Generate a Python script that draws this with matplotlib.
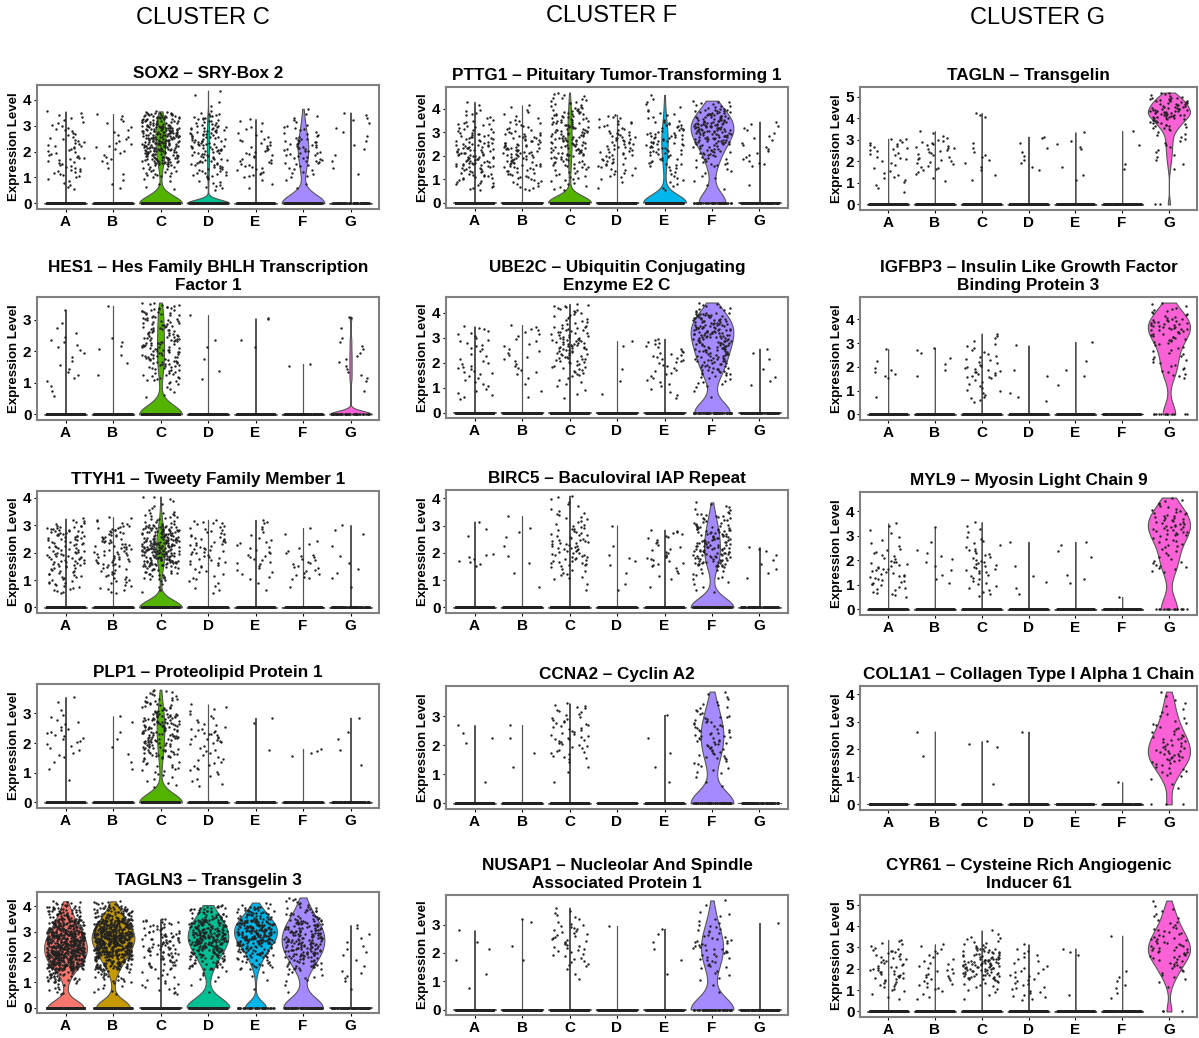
import numpy as np
import matplotlib
matplotlib.use("Agg")
import matplotlib.pyplot as plt

plt.rcParams["font.family"] = ["Liberation Sans", "DejaVu Sans"]

GROUPS = ["A", "B", "C", "D", "E", "F", "G"]
COLORS = ["#F8766D", "#C49A00", "#53B400", "#00C094", "#00B6EB", "#A58AFF", "#FB61D7"]
COLUMN_TITLES = ["CLUSTER C", "CLUSTER F", "CLUSTER G"]

# nonzero cells are counted in 0.5-wide bins starting at 0.5 (0.5-1.0, 1.0-1.5, ...)
BIN_START = 0.5
BIN_WIDTH = 0.5

# ---- cluster C column ----
sox2_title = "SOX2 – SRY-Box 2"
sox2_zero = [400, 350, 450, 400, 200, 130, 80]
sox2_top = [3.55, 3.45, 3.55, 4.35, 3.25, 3.65, 3.5]
sox2_bins = [[6, 14, 14, 14, 10, 8, 1], [3, 2, 6, 8, 5, 5], [5, 20, 55, 70, 75, 55, 3],
             [10, 20, 25, 30, 30, 20, 3, 2], [3, 12, 12, 12, 6, 3], [3, 10, 18, 22, 12, 6, 1],
             [0, 2, 2, 3, 3, 5]]

hes1_title = "HES1 – Hes Family BHLH Transcription\nFactor 1"
hes1_zero = [400, 350, 330, 300, 200, 150, 53]
hes1_top = [3.3, 3.45, 3.55, 3.15, 3.05, 1.6, 3.1]
hes1_bins = [[3, 5, 4, 6, 3, 1], [0, 1, 2, 4, 0, 1], [6, 22, 38, 38, 32, 30, 2],
             [0, 2, 1, 2, 0, 1], [0, 0, 0, 2, 0, 2], [0, 0, 2], [1, 5, 5, 4, 1, 2]]

ttyh1_title = "TTYH1 – Tweety Family Member 1"
ttyh1_zero = [450, 400, 500, 300, 200, 150, 100]
ttyh1_top = [3.25, 3.3, 4.05, 3.2, 3.2, 2.9, 3.0]
ttyh1_bins = [[14, 18, 28, 24, 30, 6], [10, 14, 22, 22, 20, 6], [5, 25, 65, 80, 60, 20, 6, 2],
              [6, 8, 14, 18, 14, 6], [2, 6, 10, 8, 5, 3], [1, 10, 10, 4, 2], [1, 3, 2, 1, 3]]

plp1_title = "PLP1 – Proteolipid Protein 1"
plp1_zero = [400, 350, 380, 300, 200, 150, 100]
plp1_top = [3.55, 2.9, 3.8, 3.3, 2.85, 1.8, 2.85]
plp1_bins = [[1, 2, 7, 10, 6, 2, 1], [0, 2, 2, 2, 2], [8, 14, 35, 45, 50, 25, 10],
             [6, 10, 8, 18, 8, 4], [0, 0, 1, 0, 2], [0, 0, 4], [0, 1, 1, 2, 1]]

tagln3_title = "TAGLN3 – Transgelin 3"
tagln3_zero = [200, 200, 400, 150, 50, 90, 100]
tagln3_top = [4.2, 4.2, 3.5, 4.05, 4.15, 4.35, 3.25]
tagln3_bins = [[10, 40, 140, 180, 160, 100, 50, 10], [8, 20, 80, 140, 190, 140, 60, 10],
               [10, 8, 20, 28, 30, 20, 1], [2, 6, 30, 60, 90, 70, 35, 3],
               [1, 3, 20, 45, 85, 85, 40, 3], [2, 8, 30, 50, 55, 45, 22, 8], [1, 5, 2, 4, 3, 2]]

# ---- cluster F column ----
pttg1_title = "PTTG1 – Pituitary Tumor-Transforming 1"
pttg1_zero = [450, 400, 420, 300, 230, 55, 90]
pttg1_top = [4.3, 4.15, 4.7, 3.75, 4.6, 4.35, 3.45]
pttg1_bins = [[12, 20, 30, 28, 22, 14, 8, 2], [10, 16, 24, 28, 20, 12, 6, 2],
              [8, 12, 20, 28, 30, 28, 24, 14, 4], [2, 10, 14, 16, 18, 12, 5],
              [6, 6, 14, 20, 22, 16, 8, 4, 1], [3, 5, 14, 22, 40, 50, 36, 10], [1, 0, 6, 6, 5, 5]]

ube2c_title = "UBE2C – Ubiquitin Conjugating\nEnzyme E2 C"
ube2c_zero = [400, 350, 450, 300, 200, 70, 100]
ube2c_top = [3.45, 3.5, 4.35, 2.85, 2.95, 4.4, 2.55]
ube2c_bins = [[6, 6, 10, 5, 8, 7], [2, 2, 6, 6, 5, 7], [3, 6, 14, 22, 28, 20, 12, 10],
              [1, 1, 1, 0, 2], [4, 6, 8, 12, 8], [2, 10, 25, 30, 38, 45, 40, 10], [0, 3, 1, 2, 1]]

birc5_title = "BIRC5 – Baculoviral IAP Repeat"
birc5_zero = [400, 350, 400, 300, 200, 180, 100]
birc5_top = [3.15, 3.35, 4.1, 3.0, 2.85, 3.85, 2.2]
birc5_bins = [[0, 0, 8, 0, 2, 1], [1, 1, 2, 1, 3, 1], [2, 10, 20, 22, 16, 10, 6, 2],
              [2, 1, 4, 1, 1], [1, 5, 12, 8, 8], [5, 10, 40, 40, 35, 20, 6], [0, 3, 3, 3]]

ccna2_title = "CCNA2 – Cyclin A2"
ccna2_zero = [400, 350, 350, 300, 200, 70, 100]
ccna2_top = [2.7, 2.7, 3.45, 0.0, 3.05, 3.85, 0.0]
ccna2_bins = [[1, 0, 0, 3, 1], [0, 1, 1, 1, 1], [1, 3, 12, 16, 14, 10], [],
              [1, 1, 1, 1, 1], [3, 8, 16, 20, 18, 10, 4], []]

nusap1_title = "NUSAP1 – Nucleolar And Spindle\nAssociated Protein 1"
nusap1_zero = [400, 350, 350, 300, 200, 60, 100]
nusap1_top = [2.8, 3.2, 3.6, 2.95, 2.85, 3.85, 3.05]
nusap1_bins = [[1, 1, 1, 2, 1], [0, 0, 1, 1, 0, 2], [0, 3, 10, 14, 14, 7, 1], [0, 0, 0, 0, 1],
               [0, 1, 1, 2, 2], [2, 6, 14, 18, 12, 6, 2], [0, 0, 0, 0, 1]]

# ---- cluster G column ----
tagln_title = "TAGLN – Transgelin"
tagln_zero = [400, 350, 350, 300, 200, 150, 2]
tagln_top = [3.05, 3.4, 4.25, 3.15, 3.35, 3.4, 5.2]
tagln_bins = [[3, 6, 4, 8, 10, 2], [0, 3, 9, 10, 12, 4], [0, 2, 3, 4, 2, 0, 0, 3],
              [0, 0, 3, 3, 2, 2], [0, 2, 1, 0, 4, 1], [0, 0, 2, 0, 1, 1],
              [0, 0, 2, 4, 5, 6, 18, 35, 25, 5]]

igfbp3_title = "IGFBP3 – Insulin Like Growth Factor\nBinding Protein 3"
igfbp3_zero = [400, 350, 350, 300, 200, 150, 12]
igfbp3_top = [2.75, 2.8, 3.4, 2.9, 3.05, 0.0, 4.7]
igfbp3_bins = [[1, 0, 6, 1, 1], [0, 0, 2, 2, 3], [7, 6, 14, 8, 6, 4], [3, 0, 2, 0, 1],
               [0, 1, 2, 1, 0, 1], [], [0, 0, 8, 8, 8, 16, 25, 12, 3]]

myl9_title = "MYL9 – Myosin Light Chain 9"
myl9_zero = [400, 350, 350, 300, 200, 150, 15]
myl9_top = [3.5, 3.35, 3.55, 2.75, 2.75, 0.5, 4.55]
myl9_bins = [[10, 14, 14, 8, 4, 4], [0, 3, 3, 4, 1, 1], [6, 8, 12, 9, 6, 4], [2, 2, 1, 0, 1],
             [0, 3, 0, 2, 2], [1], [0, 0, 10, 6, 10, 20, 18, 8, 1]]

col1a1_title = "COL1A1 – Collagen Type I Alpha 1 Chain"
col1a1_zero = [400, 350, 350, 300, 200, 150, 3]
col1a1_top = [0.0, 2.65, 2.3, 2.65, 0.0, 0.8, 4.1]
col1a1_bins = [[], [0, 0, 1, 0, 1], [1, 0, 0, 3], [0, 0, 0, 0, 1], [], [1],
               [3, 10, 18, 16, 10, 6, 4, 1]]

cyr61_title = "CYR61 – Cysteine Rich Angiogenic\nInducer 61"
cyr61_zero = [400, 350, 400, 300, 200, 150, 3]
cyr61_top = [3.35, 3.15, 3.8, 3.15, 2.95, 3.55, 5.2]
cyr61_bins = [[4, 10, 16, 12, 12, 5], [4, 8, 10, 6, 5, 2], [3, 10, 30, 40, 25, 10, 2],
              [8, 8, 8, 5, 5, 1], [1, 0, 0, 0, 3], [2, 3, 2, 0, 0, 0, 1],
              [0, 2, 6, 10, 16, 14, 10, 6, 4, 1]]

# panel boxes in pixels: left, right, top, bottom
col_x = [(37, 379), (446, 788), (860, 1197)]
col_rows = [
    [(85, 209), (297, 420), (491, 613), (684, 808), (892, 1013)],
    [(87, 208), (297, 418), (490, 613), (686, 809), (895, 1015)],
    [(87, 210), (297, 420), (492, 615), (686, 810), (895, 1017)],
]
header_pos = [(203, 18), (612, 16), (1038, 18)]

panels = [
    [(sox2_title, sox2_zero, sox2_top, sox2_bins),
     (hes1_title, hes1_zero, hes1_top, hes1_bins),
     (ttyh1_title, ttyh1_zero, ttyh1_top, ttyh1_bins),
     (plp1_title, plp1_zero, plp1_top, plp1_bins),
     (tagln3_title, tagln3_zero, tagln3_top, tagln3_bins)],
    [(pttg1_title, pttg1_zero, pttg1_top, pttg1_bins),
     (ube2c_title, ube2c_zero, ube2c_top, ube2c_bins),
     (birc5_title, birc5_zero, birc5_top, birc5_bins),
     (ccna2_title, ccna2_zero, ccna2_top, ccna2_bins),
     (nusap1_title, nusap1_zero, nusap1_top, nusap1_bins)],
    [(tagln_title, tagln_zero, tagln_top, tagln_bins),
     (igfbp3_title, igfbp3_zero, igfbp3_top, igfbp3_bins),
     (myl9_title, myl9_zero, myl9_top, myl9_bins),
     (col1a1_title, col1a1_zero, col1a1_top, col1a1_bins),
     (cyr61_title, cyr61_zero, cyr61_top, cyr61_bins)],
]

EDGE = "#555555"
W, H = 1199, 1038


def bin_values(counts, top):
    # spread the cells of each bin over the bin, last bin ends at the max value
    last = max([i for i, c in enumerate(counts) if c > 0], default=-1)
    ys = []
    for i, k in enumerate(counts):
        if k == 0:
            continue
        lo = BIN_START + i * BIN_WIDTH
        if i == last:
            hi = max(top, lo)
            ys += [lo + (j + 1) / k * (hi - lo) for j in range(k)]
        else:
            ys += [lo + (j + 0.5) / k * BIN_WIDTH for j in range(k)]
    return np.array(ys)


def jitter(n, key):
    # horizontal jitter of +-0.4, hashed from the point index (no rng)
    j = np.arange(n) + 1.0
    h = np.sin(j * 12.9898 + key * 78.233) * 43758.5453
    return ((h % 1.0) * 2 - 1) * 0.4


def violin(ax, x0, vals, color):
    top = vals.max()
    if top <= 0:
        ax.plot([x0 - 0.45, x0 + 0.45], [0, 0], color=EDGE, lw=0.8, zorder=2)
        return
    n = len(vals)
    q25, q75 = np.percentile(vals, [25, 75])
    sd = vals.std(ddof=1)
    lo = min(sd, (q75 - q25) / 1.34)
    bw = 0.9 * lo * n ** -0.2 if lo > 0 else 0.002
    grid = np.linspace(vals.min(), top, 512)
    dens = np.exp(-0.5 * ((grid[:, None] - vals[None, :]) / bw) ** 2).sum(axis=1)
    w = dens / dens.max() * 0.45
    ax.fill_betweenx(grid, x0 - w, x0 + w, facecolor=color, edgecolor=EDGE,
                     linewidth=0.8, zorder=2)


def draw_panel(ax, key, title, zeros, tops, bins):
    ymax = max(tops)
    for i in range(len(GROUPS)):
        x0 = i + 1
        ys = bin_values(bins[i], tops[i])
        vals = np.concatenate([np.zeros(zeros[i]), ys])
        violin(ax, x0, vals, COLORS[i])
        ax.scatter(x0 + jitter(len(vals), key * 7 + i), vals, s=3,
                   c="#222222", linewidths=0, zorder=3)
    ax.set_xlim(0.4, 7.6)
    ax.set_ylim(-0.05 * ymax, 1.05 * ymax)
    ax.set_xticks(range(1, 8))
    ax.set_xticklabels(GROUPS)
    ax.set_yticks(range(int(ymax) + 1))
    for lab in ax.get_xticklabels() + ax.get_yticklabels():
        lab.set_fontweight("bold")
    ax.tick_params(length=2.5, width=0.8, pad=1.5, labelsize=11)
    for s in ax.spines.values():
        s.set_color("#808080")
        s.set_linewidth(1.5)
    ax.set_ylabel("Expression Level", fontweight="bold", fontsize=9.5, labelpad=2)
    ax.set_title(title, fontweight="bold", fontsize=12.3, pad=5, linespacing=1.25)


fig = plt.figure(figsize=(W / 100, H / 100), dpi=100)

for c in range(3):
    left, right = col_x[c]
    for r in range(5):
        top, bottom = col_rows[c][r]
        ax = fig.add_axes([left / W, 1 - bottom / H, (right - left) / W, (bottom - top) / H])
        draw_panel(ax, c * 5 + r, *panels[c][r])
    hx, hy = header_pos[c]
    fig.text(hx / W, 1 - hy / H, COLUMN_TITLES[c], ha="center", va="center", fontsize=17)

fig.savefig("out.png", dpi=100)
